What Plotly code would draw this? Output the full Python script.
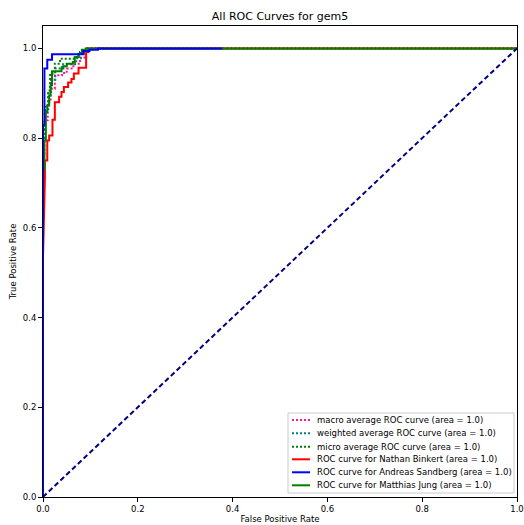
import plotly.graph_objects as go

# ROC curve points (false positive rate, true positive rate)
macro_fpr = [0.0, 0.0, 0.003, 0.003, 0.010, 0.010, 0.016, 0.016, 0.025, 0.025, 0.040, 0.040, 0.050, 0.050, 0.064, 0.064, 0.078, 0.078, 0.089, 0.089, 1.0]
macro_tpr = [0.0, 0.76, 0.76, 0.84, 0.84, 0.88, 0.88, 0.91, 0.91, 0.94, 0.94, 0.945, 0.945, 0.955, 0.955, 0.966, 0.966, 0.98, 0.98, 1.0, 1.0]

weighted_fpr = [0.0, 0.0, 0.004, 0.004, 0.011, 0.011, 0.017, 0.017, 0.026, 0.026, 0.040, 0.040, 0.070, 0.070, 0.080, 0.080, 0.089, 0.089, 1.0]
weighted_tpr = [0.0, 0.80, 0.80, 0.86, 0.86, 0.90, 0.90, 0.93, 0.93, 0.955, 0.955, 0.965, 0.965, 0.978, 0.978, 0.99, 0.99, 1.0, 1.0]

micro_fpr = [0.0, 0.0, 0.004, 0.004, 0.011, 0.011, 0.015, 0.015, 0.025, 0.025, 0.036, 0.036, 0.071, 0.071, 0.078, 0.078, 0.089, 0.089, 1.0]
micro_tpr = [0.0, 0.82, 0.82, 0.87, 0.87, 0.906, 0.906, 0.944, 0.944, 0.966, 0.966, 0.977, 0.977, 0.984, 0.984, 0.992, 0.992, 1.0, 1.0]

nathan_fpr = [0.0, 0.0, 0.004, 0.004, 0.009, 0.009, 0.013, 0.013, 0.020, 0.020, 0.025, 0.025, 0.034, 0.034, 0.039, 0.039, 0.044, 0.044, 0.053, 0.053, 0.060, 0.060, 0.065, 0.065, 0.075, 0.075, 0.091, 0.091, 0.096, 0.096, 1.0]
nathan_tpr = [0.0, 0.535, 0.71, 0.75, 0.75, 0.795, 0.795, 0.806, 0.806, 0.841, 0.841, 0.880, 0.880, 0.892, 0.892, 0.903, 0.903, 0.914, 0.914, 0.924, 0.924, 0.932, 0.932, 0.944, 0.944, 0.957, 0.957, 0.992, 0.992, 1.0, 1.0]

andreas_fpr = [0.0, 0.0, 0.003, 0.003, 0.009, 0.009, 0.019, 0.019, 0.085, 0.085, 0.098, 0.098, 0.116, 0.116, 0.378]
andreas_tpr = [0.0, 0.83, 0.83, 0.955, 0.955, 0.975, 0.975, 0.987, 0.987, 0.994, 0.994, 0.997, 0.997, 1.0, 1.0]

matthias_fpr = [0.0, 0.0, 0.003, 0.003, 0.006, 0.006, 0.009, 0.009, 0.013, 0.013, 0.016, 0.016, 0.019, 0.019, 0.039, 0.039, 0.043, 0.043, 0.050, 0.050, 0.063, 0.063, 0.067, 0.067, 0.075, 0.075, 0.082, 0.082, 0.090, 0.090, 1.0]
matthias_tpr = [0.0, 0.73, 0.73, 0.795, 0.795, 0.858, 0.858, 0.873, 0.873, 0.895, 0.895, 0.918, 0.918, 0.949, 0.949, 0.955, 0.955, 0.960, 0.960, 0.966, 0.966, 0.970, 0.970, 0.981, 0.981, 0.988, 0.988, 0.997, 0.997, 1.0, 1.0]

chance = [0.0, 1.0]

x_ticks = [0.0, 0.2, 0.4, 0.6, 0.8, 1.0]
y_ticks = [0.0, 0.2, 0.4, 0.6, 0.8, 1.0]

FONT = "DejaVu Sans, sans-serif"
W, H = 524, 525
ML, MR, MT, MB = 43, 7, 26, 28

DOT = "2px,2px"
DASH = "5px,3px"

# (label, colour, dash, x, y) in legend order
series = [
    ("macro average ROC curve (area = 1.0)", "deeppink", DOT, macro_fpr, macro_tpr),
    ("weighted average ROC curve (area = 1.0)", "teal", DOT, weighted_fpr, weighted_tpr),
    ("micro average ROC curve (area = 1.0)", "green", DOT, micro_fpr, micro_tpr),
    ("ROC curve for Nathan Binkert (area = 1.0)", "red", "solid", nathan_fpr, nathan_tpr),
    ("ROC curve for Andreas Sandberg (area = 1.0)", "blue", "solid", andreas_fpr, andreas_tpr),
    ("ROC curve for Matthias Jung (area = 1.0)", "green", "solid", matthias_fpr, matthias_tpr),
]

fig = go.Figure()

# draw order: blue on top of green along the TPR = 1 plateau
draw_order = [0, 1, 2, 3, 5, 4]
for i in draw_order:
    name, color, dash, x, y = series[i]
    fig.add_trace(go.Scatter(x=x, y=y, mode="lines", name=name,
                             line=dict(color=color, dash=dash, width=2),
                             showlegend=False))

fig.add_trace(go.Scatter(x=chance, y=chance, mode="lines", name="chance",
                         line=dict(color="navy", dash=DASH, width=2),
                         showlegend=False))

# compact legend box in the lower-right corner of the axes
pw, ph = W - ML - MR, H - MT - MB
def px_x(p):
    return (p - ML) / pw
def px_y(p):
    return (H - MB - p) / ph

shapes = [dict(type="rect", xref="paper", yref="paper",
               x0=px_x(288), x1=px_x(514), y0=px_y(493), y1=px_y(413),
               line=dict(color="#cccccc", width=1), fillcolor="white", layer="above")]
annotations = []
row_y = [420, 433.3, 446.7, 459.3, 472.3, 485.3]
for (name, color, dash, _, _), ry in zip(series, row_y):
    shapes.append(dict(type="line", xref="paper", yref="paper",
                       x0=px_x(292), x1=px_x(310), y0=px_y(ry), y1=px_y(ry),
                       line=dict(color=color, width=2, dash=dash), layer="above"))
    annotations.append(dict(text=name, xref="paper", yref="paper",
                            x=px_x(315), y=px_y(ry), xanchor="left", yanchor="middle",
                            showarrow=False,
                            font=dict(family=FONT, size=8.5, color="black")))

axis_common = dict(
    showgrid=False, zeroline=False, showline=True, linecolor="black", linewidth=1,
    mirror=True, ticks="outside", ticklen=4, tickcolor="black",
    tickfont=dict(family=FONT, size=8.5, color="black"),
    tickformat=".1f", automargin=False,
)

fig.update_layout(
    width=W, height=H,
    margin=dict(l=ML, r=MR, t=MT, b=MB),
    paper_bgcolor="white", plot_bgcolor="white",
    font=dict(family=FONT, color="black"),
    showlegend=False,
    title=dict(text="All ROC Curves for gem5", x=(ML + W - MR) / 2 / W, xanchor="center",
               y=1 - 16 / H, yanchor="middle", font=dict(family=FONT, size=11, color="black")),
    xaxis=dict(range=[0, 1], tickvals=x_ticks,
               title=dict(text="False Positive Rate", font=dict(family=FONT, size=8.5), standoff=2),
               **axis_common),
    yaxis=dict(range=[0, 1.05], tickvals=y_ticks,
               title=dict(text="True Positive Rate", font=dict(family=FONT, size=8.5), standoff=4),
               **axis_common),
    shapes=shapes,
    annotations=annotations,
)

fig.write_html("out.html")
